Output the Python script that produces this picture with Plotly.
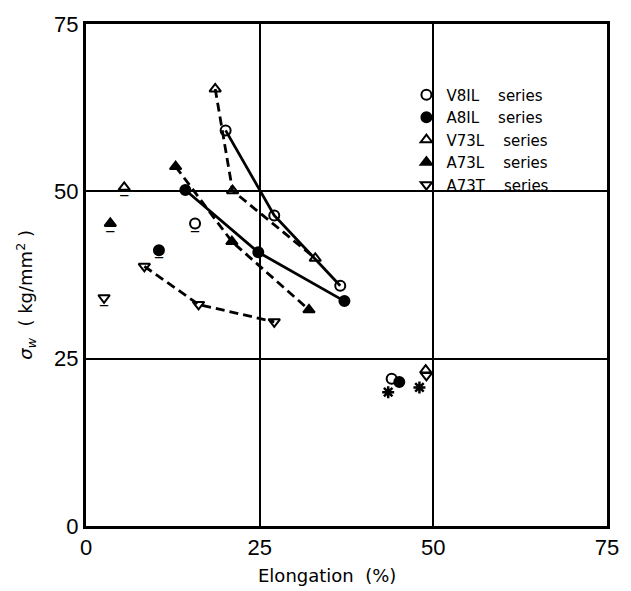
import plotly.graph_objects as go

# ---- data ----
v81l_x = [20.1, 27.1, 36.6]
v81l_y = [59.1, 46.4, 35.9]
a81l_x = [14.3, 24.8, 37.2]
a81l_y = [50.2, 40.9, 33.6]
v73l_x = [18.6, 21.1, 33.0]
v73l_y = [65.3, 50.1, 40.0]
a73l_x = [12.9, 21.0, 32.1]
a73l_y = [53.7, 42.5, 32.3]
a73t_x = [8.4, 16.2, 27.1]
a73t_y = [38.8, 33.1, 30.5]

# isolated (underlined) points
iso_v81l = (15.7, 45.2)
iso_a81l = (10.5, 41.2)
iso_v73l = (5.5, 50.6)
iso_a73l = (3.5, 45.2)
iso_a73t = (2.6, 34.1)

# right-hand cluster
clu_v81l = (44.0, 22.0)
clu_a81l = (45.1, 21.5)
clu_v73l = (48.9, 23.3)
clu_a73t = (49.0, 22.5)
splat_x = [43.5, 48.0]
splat_y = [20.0, 20.7]

SP = "&nbsp;" * 4
names = ["V8IL" + SP + "series", "A8IL" + SP + "series", "V73L" + SP + "series",
         "A73L" + SP + "series", "A73T" + SP + "series"]
ticks = [0, 25, 50, 75]

FONT = "DejaVu Sans, Liberation Sans, Arial"

series = [
    (names[0], v81l_x, v81l_y, "solid", "circle-open", iso_v81l, clu_v81l),
    (names[1], a81l_x, a81l_y, "solid", "circle", iso_a81l, clu_a81l),
    (names[2], v73l_x, v73l_y, "9px,5px", "triangle-up-open", iso_v73l, clu_v73l),
    (names[3], a73l_x, a73l_y, "9px,5px", "triangle-up", iso_a73l, None),
    (names[4], a73t_x, a73t_y, "9px,5px", "triangle-down-open", iso_a73t, clu_a73t),
]

fig = go.Figure()
for name, xs, ys, dash, sym, iso, clu in series:
    fig.add_trace(go.Scatter(x=xs, y=ys, mode="lines", showlegend=False,
                             line=dict(color="black", width=2.8, dash=dash)))
for name, xs, ys, dash, sym, iso, clu in series:
    px = list(xs)
    py = list(ys)
    if clu is not None:
        px.append(clu[0]); py.append(clu[1])
    fig.add_trace(go.Scatter(x=px, y=py, mode="markers", name=name,
                             marker=dict(symbol=sym, size=10, color="black",
                                         line=dict(color="black", width=2))))
    # isolated point with underline
    fig.add_trace(go.Scatter(x=[iso[0]], y=[iso[1]], mode="markers+text", showlegend=False,
                             text=["‾"], textposition="bottom center",
                             textfont=dict(size=16, color="black", family="DejaVu Sans"),
                             marker=dict(symbol=sym, size=10, color="black",
                                         line=dict(color="black", width=2))))

fig.add_trace(go.Scatter(x=splat_x, y=splat_y, mode="markers", showlegend=False,
                         marker=dict(symbol="asterisk-open", size=10, color="black",
                                     line=dict(color="#333", width=2.5))))

axis_common = dict(range=[0, 75], tickvals=ticks, ticktext=[str(t) for t in ticks],
                   showgrid=True, gridcolor="black", gridwidth=2,
                   showline=True, linecolor="black", linewidth=3, mirror=True,
                   zeroline=False, ticks="",
                   tickfont=dict(family="Liberation Sans, Arial", size=22, color="black"))

fig.update_layout(
    width=631, height=591,
    margin=dict(l=86, r=18, t=19, b=65),
    paper_bgcolor="white", plot_bgcolor="white",
    showlegend=True,
    legend=dict(x=0.615, y=0.8915, xanchor="left", yanchor="top",
                bgcolor="rgba(0,0,0,0)", borderwidth=0,
                font=dict(family=FONT, size=15, color="black"),
                itemwidth=30, tracegroupgap=0),
    xaxis=dict(**axis_common),
    yaxis=dict(**axis_common),
    shapes=[dict(type="rect", xref="paper", yref="paper", x0=0.64, x1=0.99,
                 y0=0.6765, y1=0.935, fillcolor="white", line=dict(width=0),
                 layer="between")],
    annotations=[
        dict(text="Elongation  (%)", xref="paper", yref="paper", x=0.463, y=-0.074,
             xanchor="center", yanchor="top", showarrow=False,
             font=dict(family=FONT, size=18, color="black")),
        dict(text="<i>σ<sub>w</sub></i>  ( kg/mm<sup>2</sup> )", xref="paper", yref="paper",
             x=-0.087, y=0.46, xanchor="right", yanchor="middle", textangle=-90,
             showarrow=False, font=dict(family=FONT, size=18, color="black")),
    ],
)

fig.write_html("out.html")
